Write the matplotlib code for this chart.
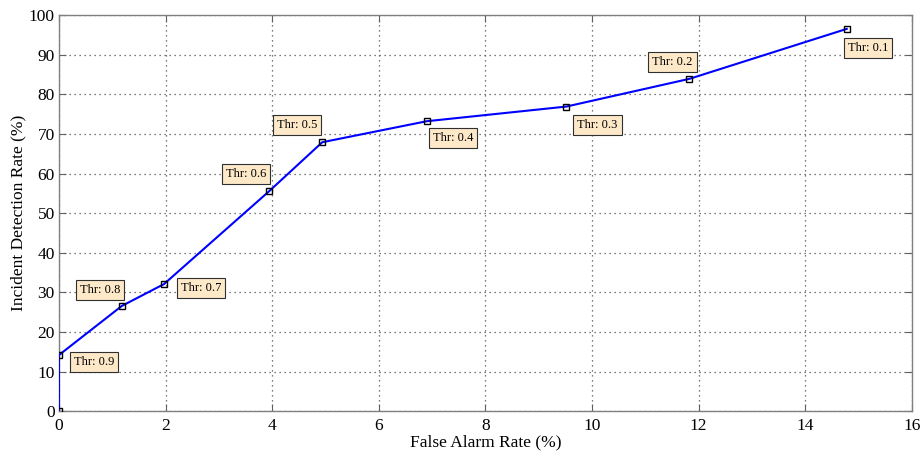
import numpy as np
import matplotlib.pyplot as plt

# ROC-style curve: false alarm rate vs incident detection rate
far = [0.0, 0.0, 1.18, 1.97, 3.94, 4.94, 6.90, 9.52, 11.83, 14.78]
idr = [0.0, 14.2, 26.6, 32.1, 55.5, 67.9, 73.2, 76.9, 83.9, 96.5]
thr = [None, '0.9', '0.8', '0.7', '0.6', '0.5', '0.4', '0.3', '0.2', '0.1']

# label offsets in pixels from each point
offs = [None, (35, -7), (-22, 16), (37, -4), (-23, 17), (-25, 17),
        (26, -17), (31, -18), (-17, 17), (21, -19)]

plt.rcParams['font.family'] = ['Liberation Serif', 'DejaVu Serif']

fig = plt.figure(figsize=(9.23, 4.51), dpi=100)
ax = fig.add_axes([0.0639, 0.088, 0.9239, 0.8787])

ax.plot(far, idr, color='#0000ff', lw=1.5, zorder=3)
ax.plot(far, idr, ls='none', marker='s', ms=4.5, mfc='none', mec='black',
        mew=1.0, zorder=4)

for x, y, t, o in zip(far, idr, thr, offs):
    if t is None:
        continue
    ax.annotate('Thr: ' + t, (x, y), xytext=o, textcoords='offset pixels',
                ha='center', va='center', fontsize=9, zorder=5,
                bbox=dict(boxstyle='square,pad=0.32', fc='#fde8c8',
                          ec='#303030', lw=0.8))

ax.set_xlim(0, 16)
ax.set_ylim(0, 100)
ax.set_xticks(np.arange(0, 17, 2))
ax.set_yticks(np.arange(0, 101, 10))
ax.grid(True, ls=(0, (1, 3)), color='#505050', lw=0.9)
ax.tick_params(direction='in', top=True, right=True, length=5,
               labelsize=12.5, color='#606060', pad=3)
ax.tick_params(axis='x', pad=5)
for s in ax.spines.values():
    s.set_color('#808080')
    s.set_linewidth(1.0)

ax.set_xlabel('False Alarm Rate (%)', fontsize=12.5, labelpad=0)
ax.set_ylabel('Incident Detection Rate (%)', fontsize=12.5, labelpad=2)

fig.savefig('out.png', dpi=100)
